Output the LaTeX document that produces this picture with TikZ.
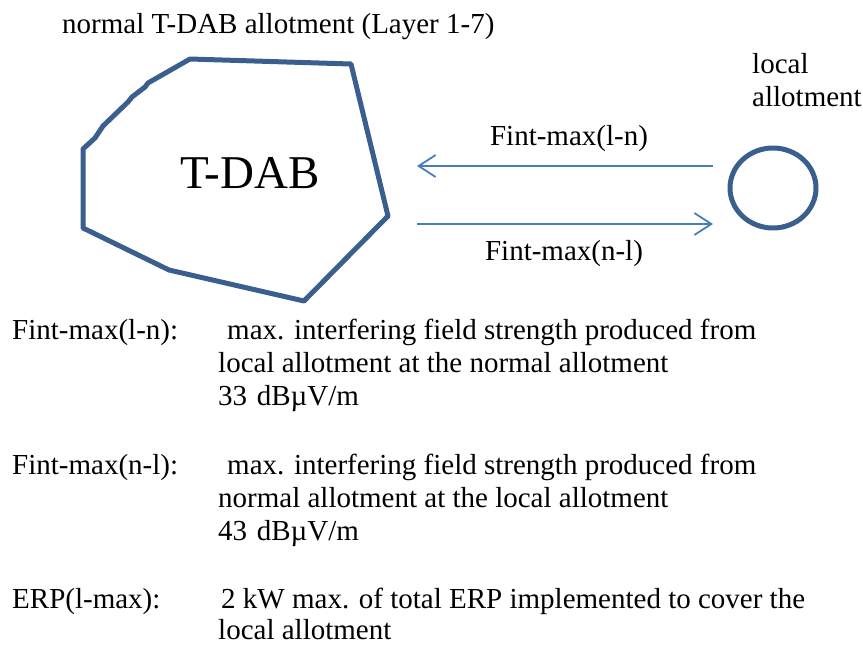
\documentclass[tikz,border=0pt]{standalone}
\usepackage{fontspec}
\setmainfont{Liberation Serif}
\usetikzlibrary{arrows.meta,shapes.geometric}
\definecolor{shapeblue}{RGB}{58,95,142}
\definecolor{arrowblue}{RGB}{74,126,187}
\tikzset{
  txt/.style={inner sep=0pt, anchor=base west, font=\fontsize{29}{33}\selectfont},
  ctxt/.style={inner sep=0pt, anchor=base, font=\fontsize{29}{33}\selectfont},
  shapeline/.style={draw=shapeblue, line width=5pt, line join=round},
  flow/.style={draw=arrowblue, line width=1.8pt, -{Straight Barb[length=17pt,width=22pt,line width=1.8pt]}}
}
\begin{document}
\begin{tikzpicture}[x=1pt,y=-1pt]
\useasboundingbox (0,0) rectangle (863,645);
% title
\node[txt] (title) at (62,33) {normal T-DAB allotment (Layer 1-7)};
% normal allotment polygon
\draw[shapeline] (190,59) -- (351,64) -- (388,216) -- (304,301) -- (169,270) -- (83,228) -- (83,149) -- (95,138) -- (103,126) -- (128,102) -- (132,97) -- (145,87) -- (148,83) -- cycle;
\node[inner sep=0pt, anchor=base west, font=\fontsize{47}{50}\selectfont] (tdab) at (180,188) {T-DAB};
% local allotment
\node[shapeline, ellipse, minimum width=86pt, minimum height=80pt, inner sep=0pt] (local) at (773,188) {};
\node[txt] (locallbl) at (752,73) {local};
\node[txt] (locallbl2) at (752,106) {allotment};
% arrows
\coordinate (a1s) at (713,166);
\coordinate (a1e) at (417,166);
\coordinate (a2s) at (417,224);
\coordinate (a2e) at (713,224);
\draw[flow] (a1s) -- (a1e);
\draw[flow] (a2s) -- (a2e);
\node[ctxt] (lbl1) at (569,145) {Fint-max(l-n)};
\node[ctxt] (lbl2) at (564,260) {Fint-max(n-l)};
% legend
\node[txt] (k1) at (12,339) {Fint-max(l-n):};
\node[txt] (d1a) at (227,339) {max. interfering field strength produced from};
\node[txt] (d1b) at (218,372) {local allotment at the normal allotment};
\node[txt] (d1c) at (218,405) {33\,\,dBµV/m};
\node[txt] (k2) at (12,474) {Fint-max(n-l):};
\node[txt] (d2a) at (227,474) {max. interfering field strength produced from};
\node[txt] (d2b) at (218,507) {normal allotment at the local allotment};
\node[txt] (d2c) at (218,540) {43\,\,dBµV/m};
\node[txt] (k3) at (12,608) {ERP(l-max):};
\node[txt] (d3a) at (221,608) {2 kW max. of total ERP implemented to cover the};
\node[txt] (d3b) at (218,639) {local allotment};
\end{tikzpicture}
\end{document}
